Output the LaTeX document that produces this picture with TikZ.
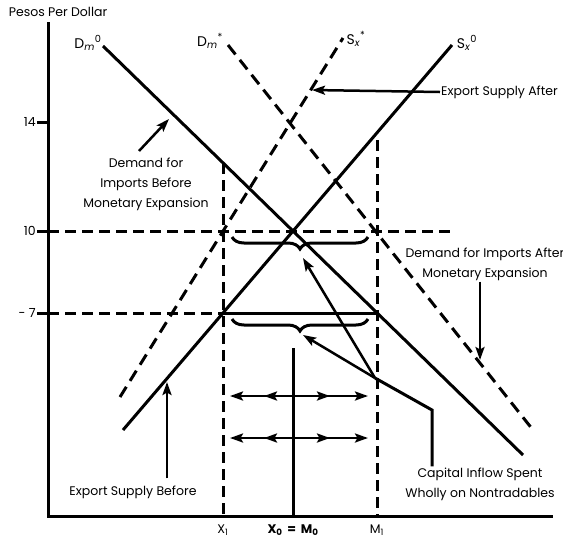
\documentclass[tikz,border=0pt]{standalone}
\usepackage{fontspec}
\setmainfont{Poppins}
\usetikzlibrary{arrows.meta, positioning, decorations.pathreplacing}
\tikzset{
	curve/.style={line width=3pt},
	shifted/.style={line width=3pt, dash pattern=on 12pt off 7pt},
	guide/.style={line width=3pt, dash pattern=on 11pt off 6pt},
	pointer/.style={-{Stealth[length=13pt, width=9pt, inset=2.5pt]}, line width=2.5pt},
	note/.style={font=\fontsize{12.5}{20}\selectfont, align=center, inner sep=1pt},
	curvename/.style={font=\fontsize{14}{16}\selectfont, inner sep=1pt},
	gap/.style={decorate, decoration={brace, mirror, amplitude=12pt}, line width=3pt}
}

\begin{document}
\begin{tikzpicture}[x=1pt, y=-1pt]
		\useasboundingbox (0,0) rectangle (563,542);
		
		% Axes
		\coordinate (origin) at (48,516);
		\coordinate (ytop) at (48,22);
		\coordinate (xend) at (553,516);
		\draw[curve] (ytop) -- (origin) -- (xend);
		\node[note] (yname) at (58,12) {Pesos Per Dollar};
		
		% Price levels
		\node[note, anchor=east] (p14) at (37,122) {14};
		\node[note, anchor=east] (p10) at (37,231) {10};
		\node[note, anchor=east] (p7) at (37,313) {- 7};
		\foreach \p in {p14, p10, p7}
			\draw[curve] (\p.east) -- (\p.east -| origin);
		
		% Crossing points
		\coordinate (x1p10) at (223,231);
		\coordinate (e10) at (293,231);
		\coordinate (m1p10) at (377,231);
		\coordinate (x1p7) at (223,313);
		\coordinate (m1p7) at (377,313);
		\coordinate (end10) at (455,231);
		\coordinate (x1top) at (223,163);
		\coordinate (m1top) at (377,140);
		\coordinate (x0top) at (293,348);
		
		% Import demand and export supply
		\coordinate (dm0a) at (103,46);
		\coordinate (dm0b) at (523,455);
		\coordinate (dmsa) at (228,45);
		\coordinate (dmsb) at (533,430);
		\coordinate (sx0a) at (123,430);
		\coordinate (sx0b) at (452,45);
		\coordinate (sxsa) at (120,397);
		\coordinate (sxsb) at (343,38);
		\draw[curve] (dm0a) -- (dm0b);
		\draw[shifted] (dmsa) -- (dmsb);
		\draw[curve] (sx0a) -- (sx0b);
		\draw[shifted] (sxsa) -- (sxsb);
		\node[curvename] (dm0name) at (88,43) {D\textsubscript{\itshape m}\textsuperscript{0}};
		\node[curvename] (dmsname) at (210,41) {D\textsubscript{\itshape m}\textsuperscript{*}};
		\node[curvename] (sxsname) at (356,39) {S\textsubscript{\itshape x}\textsuperscript{*}};
		\node[curvename] (sx0name) at (467,43) {S\textsubscript{\itshape x}\textsuperscript{0}};
		
		% Levels 10 and 7
		\draw[guide] (p10.east -| origin) -- (end10);
		\draw[guide] (p7.east -| origin) -- (x1p7);
		\draw[curve] (x1p7) -- (m1p7);
		
		% Quantities
		\draw[guide] (x1top) -- (x1top |- origin);
		\draw[guide] (m1top) -- (m1top |- origin);
		\draw[curve] (x0top) -- (x0top |- origin);
		\node[note] (x1name) at (223,530) {X\textsubscript{1}};
		\node[note, font=\fontsize{12.5}{14}\bfseries] (x0name) at (293,530) {X\textsubscript{0} \,=\, M\textsubscript{0}};
		\node[note] (m1name) at (377,530) {M\textsubscript{1}};
		
		% Braces
		\coordinate (brace10a) at (232,237);
		\coordinate (brace10b) at (368,237);
		\coordinate (brace7a) at (232,319);
		\coordinate (brace7b) at (368,319);
		\draw[gap] (brace10a) -- (brace10b);
		\draw[gap] (brace7a) -- (brace7b);
		
		% Double arrows
		\foreach \row in {396,438} {
			\coordinate (mid\row) at (293,\row);
			\coordinate (left\row) at (230,\row);
			\coordinate (leftin\row) at (264,\row);
			\coordinate (rightin\row) at (330,\row);
			\coordinate (right\row) at (368,\row);
			\draw[pointer] (mid\row) -- (left\row);
			\draw[pointer] (mid\row) -- (leftin\row);
			\draw[pointer] (mid\row) -- (right\row);
			\draw[pointer] (mid\row) -- (rightin\row);
		}
		
		% Notes
		\node[note] (dmbefore) at (146,184) {Demand for\\Imports Before\\Monetary Expansion};
		\coordinate (dmbeforetip) at (169,119);
		\draw[pointer] (139,151) -- (dmbeforetip);
		
		\node[note, anchor=west] (sxafter) at (440,92) {Export Supply After};
		\coordinate (sxaftertip) at (312,90);
		\draw[pointer] (sxafter.west) -- (sxaftertip);
		
		\node[note] (dmafter) at (485,264) {Demand for Imports After\\Monetary Expansion};
		\coordinate (dmaftertip) at (480,360);
		\draw[pointer] (dmafter.south -| dmaftertip) -- (dmaftertip);
		
		\node[note] (sxbefore) at (133,492) {Export Supply Before};
		\coordinate (sxbeforetip) at (167,382);
		\draw[pointer] ([yshift=6pt]sxbefore.north -| sxbeforetip) -- (sxbeforetip);
		
		\node[note] (capital) at (480,484) {Capital Inflow Spent\\Wholly on Nontradables};
		\coordinate (bend) at (432,410);
		\coordinate (fork) at (375,378);
		\coordinate (uptip) at (303,258);
		\coordinate (lowtip) at (303,335);
		\draw[curve] (capital.north -| bend) -- (bend) -- (fork);
		\draw[pointer] (fork) -- (uptip);
		\draw[pointer] (fork) -- (lowtip);
	\end{tikzpicture}
\end{document}
